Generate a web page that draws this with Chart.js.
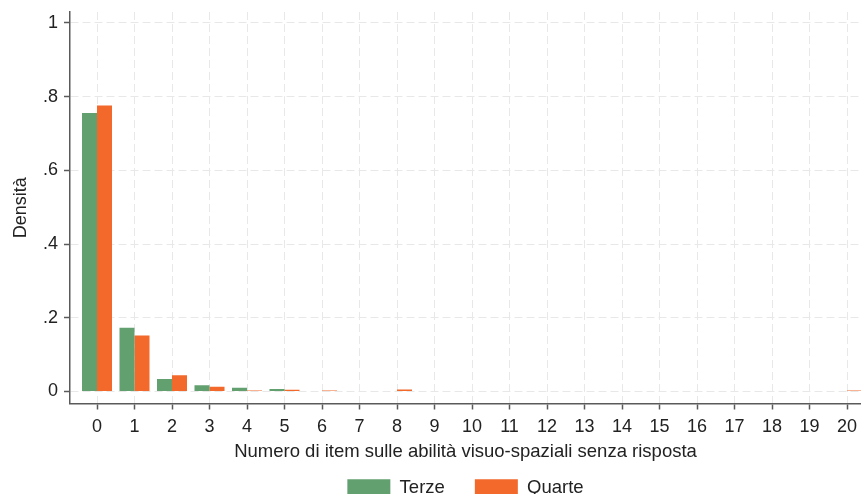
<!DOCTYPE html>
<html>
<head>
<meta charset="utf-8">
<script src="https://cdn.jsdelivr.net/npm/chart.js@4"></script>
<style>
  html, body { margin: 0; padding: 0; overflow: hidden; background: #fff; }
  #wrap { position: relative; width: 861px; height: 507px; }
</style>
</head>
<body>
<div id="wrap"><canvas id="chart1"></canvas></div>
<script>
// numero di item senza risposta (0..20)
const items = [0,1,2,3,4,5,6,7,8,9,10,11,12,13,14,15,16,17,18,19,20];
const terze  = [0.756, 0.173, 0.034, 0.017, 0.010, 0.007, 0, 0, 0, 0, 0, 0, 0, 0, 0, 0, 0, 0, 0, 0, 0];
const quarte = [0.776, 0.152, 0.044, 0.013, 0.003, 0.0045, 0.003, 0, 0.0055, 0, 0, 0, 0, 0, 0, 0, 0, 0, 0, 0, 0.003];
const yTicks = [0, 0.2, 0.4, 0.6, 0.8, 1];

const fontFam = '"Liberation Sans", Arial, sans-serif';
const gridCol = '#e8e8e8';
const axisCol = '#5a5a5a';

const datos = {
  labels: items,
  datasets: [
    {label: 'Terze', data: terze, backgroundColor: '#63a06f', borderWidth: 0},
    {label: 'Quarte', data: quarte, backgroundColor: '#f2692b', borderWidth: 0}
  ]
};

const options = {
  responsive: true,
  maintainAspectRatio: false,
  animation: false,
  layout: {padding: {top: 12, left: 0, right: 0, bottom: 0}},
  datasets: {bar: {categoryPercentage: 0.8, barPercentage: 1}},
  scales: {
    x: {
      type: 'linear',
      offset: false,
      min: -0.72,
      max: 20.373,
      afterFit: s => { s.height = 45; s.paddingLeft = 0; s.paddingRight = 0; },
      afterBuildTicks: s => { s.ticks = items.map(v => ({value: v})); },
      ticks: {
        stepSize: 1, includeBounds: false, autoSkip: false, maxRotation: 0,
        padding: 7, color: '#222', font: {family: fontFam, size: 18}
      },
      grid: {offset: false, color: gridCol, lineWidth: 1, tickLength: 6, tickColor: axisCol, tickWidth: 1.5},
      border: {display: true, color: axisCol, width: 1.5, dash: [8, 4]},
      title: {
        display: true, text: 'Numero di item sulle abilità visuo-spaziali senza risposta',
        color: '#222', font: {family: fontFam, size: 18.5}, padding: {top: 0, bottom: -14.5}
      }
    },
    y: {
      min: -0.0325,
      max: 1.0298,
      afterFit: s => { s.width = 70; s.paddingTop = 0; s.paddingBottom = 0; },
      afterBuildTicks: s => { s.ticks = yTicks.map(v => ({value: v})); },
      ticks: {
        padding: 6, color: '#222', font: {family: fontFam, size: 18},
        callback: v => {
          const r = Math.round(v * 10) / 10;
          return String(r).replace(/^0\./, '.');
        }
      },
      grid: {color: gridCol, lineWidth: 1, tickLength: 6, tickColor: axisCol, tickWidth: 1.5},
      border: {display: true, color: axisCol, width: 1.5, dash: [8, 4]},
      title: {
        display: true, text: 'Densità', color: '#222',
        font: {family: fontFam, size: 18}, padding: {top: 10, bottom: 0}
      }
    }
  },
  plugins: {
    legend: {
      position: 'bottom',
      fullSize: false,
      labels: {
        boxWidth: 43, boxHeight: 17, padding: 30,
        color: '#222', font: {family: fontFam, size: 18.5}
      }
    },
    tooltip: {enabled: false}
  }
};

const ctx = document.getElementById('chart1').getContext('2d');
new Chart(ctx, {type: 'bar', data: datos, options});
</script>
</body>
</html>
